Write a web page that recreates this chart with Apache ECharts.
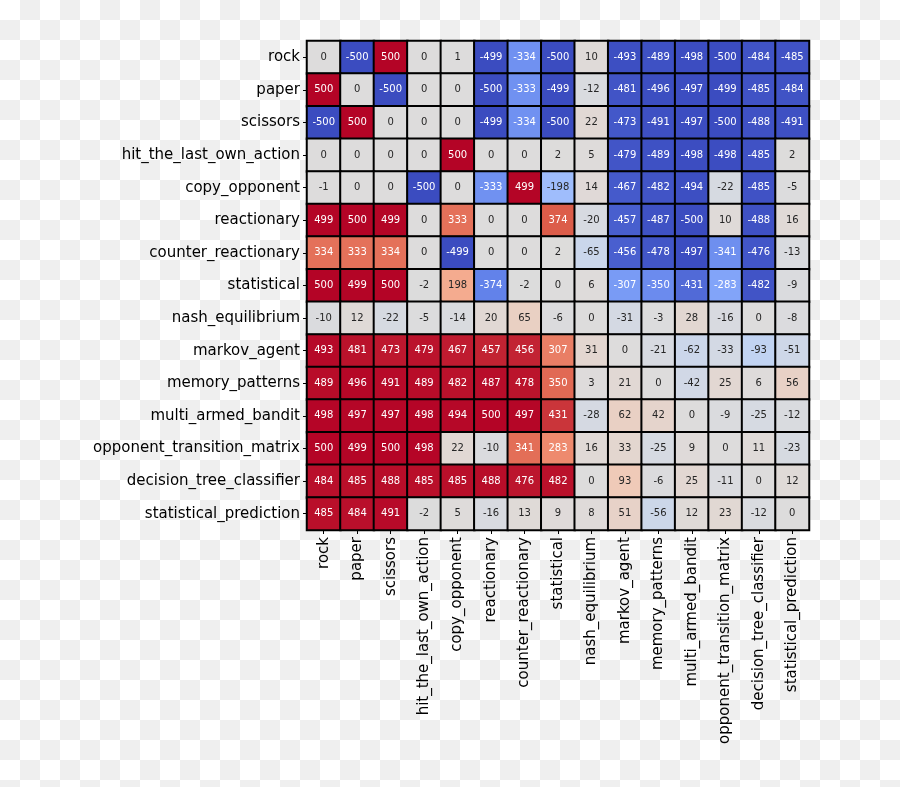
<!DOCTYPE html>
<html><head><meta charset="utf-8">
<script src="https://cdn.jsdelivr.net/npm/echarts@6/dist/echarts.min.js"></script>
<style>
html,body{margin:0;padding:0;}
body{background:repeating-conic-gradient(#efefef 0 25%, #ffffff 0 50%) 0 0/40px 40px;}
#c{width:900px;height:787px;}
</style></head><body><div id="c"></div>
<script>
const agents = ["rock","paper","scissors","hit_the_last_own_action","copy_opponent","reactionary","counter_reactionary","statistical","nash_equilibrium","markov_agent","memory_patterns","multi_armed_bandit","opponent_transition_matrix","decision_tree_classifier","statistical_prediction"];
const rock = [0,-500,500,0,1,-499,-334,-500,10,-493,-489,-498,-500,-484,-485];
const paper = [500,0,-500,0,0,-500,-333,-499,-12,-481,-496,-497,-499,-485,-484];
const scissors = [-500,500,0,0,0,-499,-334,-500,22,-473,-491,-497,-500,-488,-491];
const hit_the_last_own_action = [0,0,0,0,500,0,0,2,5,-479,-489,-498,-498,-485,2];
const copy_opponent = [-1,0,0,-500,0,-333,499,-198,14,-467,-482,-494,-22,-485,-5];
const reactionary = [499,500,499,0,333,0,0,374,-20,-457,-487,-500,10,-488,16];
const counter_reactionary = [334,333,334,0,-499,0,0,2,-65,-456,-478,-497,-341,-476,-13];
const statistical = [500,499,500,-2,198,-374,-2,0,6,-307,-350,-431,-283,-482,-9];
const nash_equilibrium = [-10,12,-22,-5,-14,20,65,-6,0,-31,-3,28,-16,0,-8];
const markov_agent = [493,481,473,479,467,457,456,307,31,0,-21,-62,-33,-93,-51];
const memory_patterns = [489,496,491,489,482,487,478,350,3,21,0,-42,25,6,56];
const multi_armed_bandit = [498,497,497,498,494,500,497,431,-28,62,42,0,-9,-25,-12];
const opponent_transition_matrix = [500,499,500,498,22,-10,341,283,16,33,-25,9,0,11,-23];
const decision_tree_classifier = [484,485,488,485,485,488,476,482,0,93,-6,25,-11,0,12];
const statistical_prediction = [485,484,491,-2,5,-16,13,9,8,51,-56,12,23,-12,0];
const rows = [rock,paper,scissors,hit_the_last_own_action,copy_opponent,reactionary,counter_reactionary,statistical,nash_equilibrium,markov_agent,memory_patterns,multi_armed_bandit,opponent_transition_matrix,decision_tree_classifier,statistical_prediction];

const vmin = -500, vmax = 500;
const cmap = ["#3b4cc0","#6282ea","#8db0fe","#b8d0f9","#dddcdc","#f5c4ac","#f49a7b","#dc5d4a","#b40426"];

function hex(c){return [parseInt(c.substr(1,2),16),parseInt(c.substr(3,2),16),parseInt(c.substr(5,2),16)];}
function colorAt(v){
  let t=(v-vmin)/(vmax-vmin); t=Math.max(0,Math.min(1,t));
  const p=t*(cmap.length-1); const i=Math.min(Math.floor(p),cmap.length-2); const f=p-i;
  const a=hex(cmap[i]), b=hex(cmap[i+1]);
  return a.map((x,k)=>x+(b[k]-x)*f);
}
function lum(rgb){
  const l=rgb.map(c=>{c=c/255;return c<=0.03928?c/12.92:Math.pow((c+0.055)/1.055,2.4);});
  return 0.2126*l[0]+0.7152*l[1]+0.0722*l[2];
}

const data=[];
rows.forEach((r,yi)=>r.forEach((v,xi)=>{
  const txt = lum(colorAt(v))>0.408 ? "#262626" : "#ffffff";
  data.push({value:[xi,yi,v],label:{color:txt}});
}));

const chart=echarts.init(document.getElementById('c'),null,{renderer:'canvas'});
chart.setOption({
  backgroundColor:'transparent',
  animation:false,
  grid:{left:307,top:41,width:502,height:489},
  xAxis:{type:'category',data:agents,
    axisLine:{show:false},
    axisTick:{show:true,length:4,lineStyle:{color:'#000'},alignWithLabel:true},
    axisLabel:{rotate:90,color:'#000',fontSize:15,fontFamily:'DejaVu Sans',margin:7,interval:0},
    splitLine:{show:false}},
  yAxis:{type:'category',data:agents,inverse:true,
    axisLine:{show:false},
    axisTick:{show:true,length:4,lineStyle:{color:'#000'},alignWithLabel:true},
    axisLabel:{color:'#000',fontSize:15,fontFamily:'DejaVu Sans',margin:7,interval:0,padding:[4,0,0,0]},
    splitLine:{show:false}},
  visualMap:{show:false,min:vmin,max:vmax,dimension:2,inRange:{color:cmap}},
  series:[{type:'heatmap',data:data,
    itemStyle:{borderColor:'#000',borderWidth:2},
    label:{show:true,fontSize:10,fontFamily:'DejaVu Sans',formatter:p=>String(p.value[2])},
    emphasis:{disabled:true}}]
});
</script></body></html>
